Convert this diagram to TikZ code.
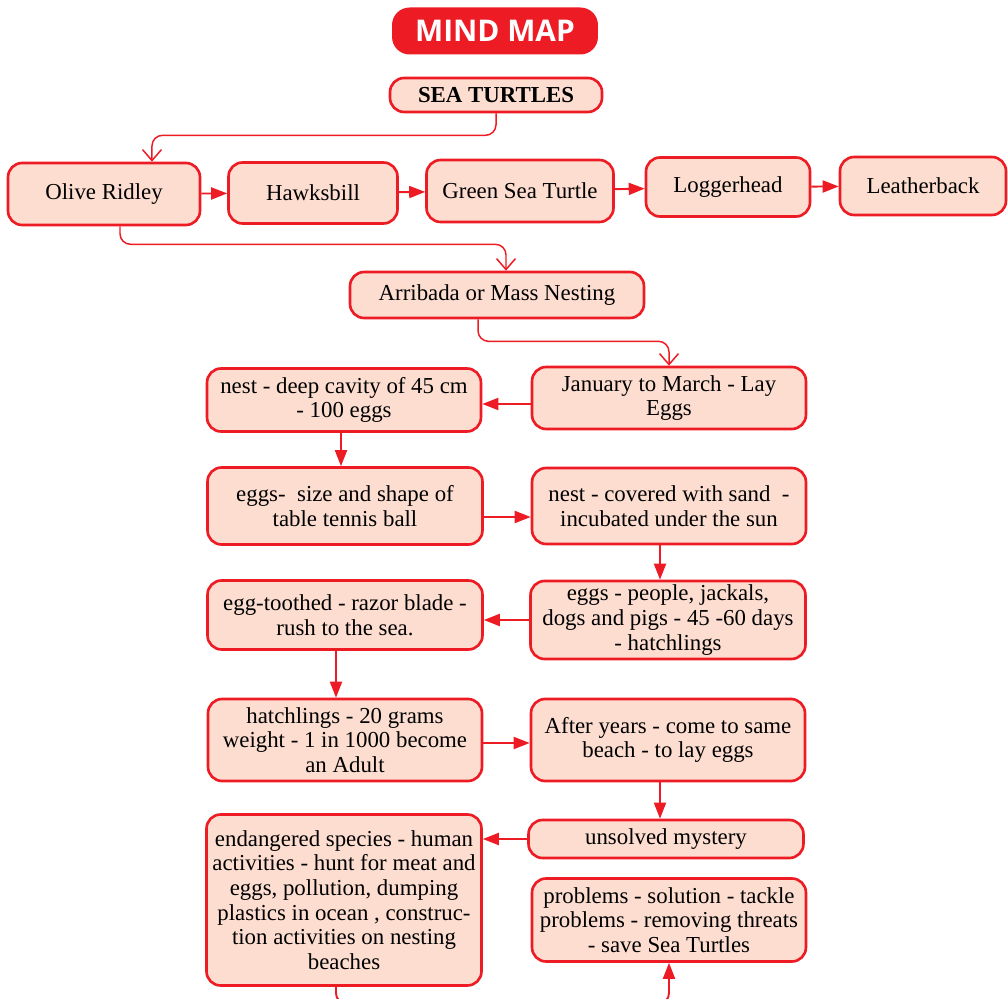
\documentclass[tikz,border=0pt]{standalone}
\usepackage{fontspec}
\setmainfont{Liberation Serif}
\newfontfamily\mmfont{Open Sans}
\usepackage{xcolor}
\usetikzlibrary{arrows.meta,positioning}

\definecolor{mmred}{RGB}{237,28,36}
\definecolor{mmfill}{RGB}{252,221,208}

\begin{document}
\begin{tikzpicture}[
  x=0.02cm, y=-0.02cm,
  every node/.style={font=\fontsize{13}{14}\selectfont},
  box/.style={draw=mmred,line width=1.5pt,fill=mmfill,rounded corners=8pt,
    align=center,inner sep=1pt},
  title/.style={fill=mmred,rounded corners=10pt,text=white,
    font=\mmfont\bfseries\fontsize{17}{18}\selectfont},
  arr/.style={-{Triangle[length=3.2mm,width=2.4mm]},mmred,line width=1.1pt},
  elbow/.style={-{Straight Barb[length=2.2mm,width=3.8mm]},mmred,line width=0.85pt,
    rounded corners=6pt},
]
\useasboundingbox (0,0) rectangle (1008,999);
% ---- heading ----
\node[title,minimum width=4.12cm,minimum height=0.94cm] (mind) at (495,31) {MIND MAP};
\node[box,minimum width=4.24cm,minimum height=0.68cm,font=\bfseries\fontsize{13}{14}\selectfont]
  (sea) at (496,95) {SEA TURTLES};
% ---- the five species ----
\node[box,minimum width=3.84cm,minimum height=1.24cm] (olive)   at (104,194) {Olive Ridley};
\node[box,minimum width=3.38cm,minimum height=1.22cm] (hawks)   at (313,193) {Hawksbill};
\node[box,minimum width=3.74cm,minimum height=1.24cm] (green)   at (520,191) {Green Sea Turtle};
\node[box,minimum width=3.28cm,minimum height=1.18cm] (logger)  at (728,187) {Loggerhead};
\node[box,minimum width=3.32cm,minimum height=1.16cm] (leather) at (923,186) {Leatherback};
\draw[arr] (olive)  -- (hawks);
\draw[arr] (hawks)  -- (green);
\draw[arr] (green)  -- (logger);
\draw[arr] (logger) -- (leather);
% ---- nesting ----
\node[box,minimum width=5.88cm,minimum height=0.92cm] (arrib) at (497,295) {Arribada or Mass Nesting};
\node[box,minimum width=5.48cm,minimum height=1.24cm] (janmar) at (669,398)
  {January to March - Lay\\Eggs};
\node[box,minimum width=5.48cm,minimum height=1.26cm] (nest) at (344,400)
  {nest - deep cavity of 45 cm\\- 100 eggs};
\node[box,minimum width=5.5cm,minimum height=1.54cm] (eggs) at (345,506)
  {eggs-\ \ size and shape of\\table tennis ball};
\node[box,minimum width=5.48cm,minimum height=1.52cm] (covered) at (669,506)
  {nest - covered with sand\ \ -\\incubated under the sun};
\node[box,minimum width=5.5cm,minimum height=1.56cm] (people) at (668,620)
  {eggs - people, jackals,\\dogs and pigs - 45 -60 days\\- hatchlings};
\node[box,minimum width=5.5cm,minimum height=1.38cm] (tooth) at (345,615)
  {egg-toothed - razor blade -\\rush to the sea.};
\node[box,minimum width=5.48cm,minimum height=1.64cm] (hatch) at (345,740)
  {hatchlings - 20 grams\\weight - 1 in 1000 become\\an Adult};
\node[box,minimum width=5.48cm,minimum height=1.64cm] (after) at (668,740)
  {After years - come to same\\beach - to lay eggs};
\node[box,minimum width=5.5cm,minimum height=0.76cm] (unsolved) at (666,839) {unsolved mystery};
\node[box,minimum width=5.5cm,minimum height=3.42cm] (endang) at (344,900)
  {endangered species - human\\activities - hunt for meat and\\eggs, pollution, dumping\\
   plastics in ocean , construc-\\tion activities on nesting\\beaches};
\node[box,minimum width=5.48cm,minimum height=1.66cm] (problems) at (669,920)
  {problems - solution - tackle\\problems - removing threats\\- save Sea Turtles};
% ---- connectors ----
\draw[elbow] (sea.south) -- ++(0,22) -| ([xshift=0.96cm]olive.north);
\draw[elbow] ([xshift=0.32cm]olive.south) -- ++(0,18) -| ([xshift=0.18cm]arrib.north);
\draw[elbow] ([xshift=-0.38cm]arrib.south) -- ++(0,22) -| (janmar.north);
% horizontal hops between the two columns
\draw[arr] ([yshift=-0.12cm]janmar.west) -- ([yshift=-0.12cm]janmar.west -| nest.east);
\draw[arr] ([yshift=-0.22cm]eggs.east) -- ([yshift=-0.22cm]eggs.east -| covered.west);
\draw[arr] (people.west) -- (people.west -| tooth.east);
\draw[arr] ([yshift=-0.06cm]hatch.east) -- ([yshift=-0.06cm]hatch.east -| after.west);
\draw[arr] (unsolved.west) -- (unsolved.west -| endang.east);
% downward steps
\draw[arr] ([xshift=-0.06cm]nest.south) -- ([xshift=-0.06cm]nest.south |- eggs.north);
\draw[arr] ([xshift=-0.18cm]covered.south) -- ([xshift=-0.18cm]covered.south |- people.north);
\draw[arr] ([xshift=-0.18cm]tooth.south) -- ([xshift=-0.18cm]tooth.south |- hatch.north);
\draw[arr] ([xshift=-0.16cm]after.south) -- ([xshift=-0.16cm]after.south |- unsolved.north);
% runs off the bottom edge, as in the page it comes from
\draw[arr,rounded corners=6pt] ([xshift=-0.16cm]endang.south) -- ++(0,17) -| (problems.south);
\end{tikzpicture}
\end{document}
